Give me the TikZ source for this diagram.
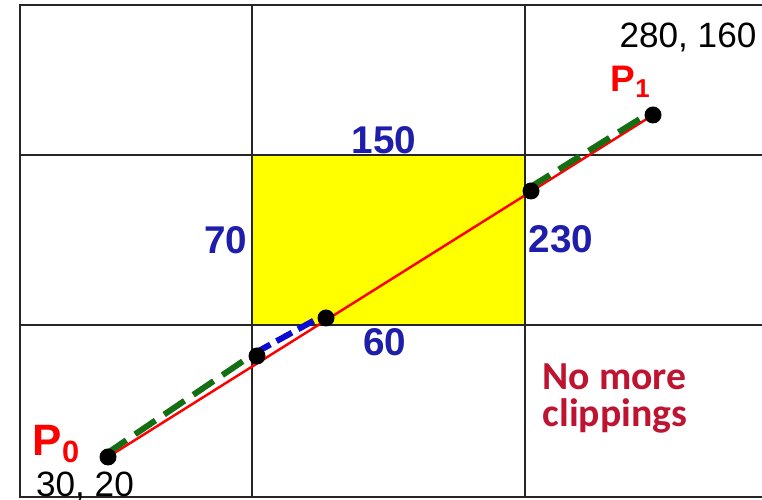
\documentclass[tikz,border=0pt]{standalone}
\usepackage{fontspec}
\setmainfont{Liberation Sans}
\newfontfamily\notefont{Carlito}
\usetikzlibrary{backgrounds}
\definecolor{numblue}{RGB}{30,30,170}
\definecolor{noteRed}{RGB}{190,20,50}
\definecolor{segGreen}{RGB}{20,110,20}
\definecolor{segBlue}{RGB}{10,10,210}
\definecolor{winYellow}{RGB}{255,255,0}

\begin{document}
\begin{tikzpicture}[
  gridln/.style={draw=black!85, line width=0.7pt},
  dot/.style={circle, fill=black, minimum size=0.17cm, inner sep=0pt},
  num/.style={text=numblue, font=\fontsize{11}{13}\selectfont\bfseries, inner sep=1pt},
  xylab/.style={font=\fontsize{10}{12}\selectfont, inner sep=1pt},
  plab/.style={text=red, inner sep=1pt},
  seg/.style={line width=1.7pt, dash pattern=on 7pt off 3pt,
              transform canvas={shift={(-0.02,0.03)}}},
]
  \useasboundingbox (0,0) rectangle (7.62,5);
  \clip (0,0) rectangle (7.62,5);

  \node[dot] (p0) at (1.08,0.43) {};
  \node[dot] (ia) at (2.57,1.44) {};
  \node[dot] (ib) at (3.26,1.82) {};
  \node[dot] (ic) at (5.31,3.09) {};
  \node[dot] (p1) at (6.53,3.85) {};

  \node[plab, font=\fontsize{12.5}{14}\selectfont\bfseries] (lp0) at (0.57,0.56) {P\textsubscript{0}};
  \node[plab, font=\fontsize{10.5}{12}\selectfont\bfseries] (lp1) at (6.31,4.18) {P\textsubscript{1}};
  \node[xylab] (xy1) at (6.88,4.63) {280, 160};
  \node[xylab, anchor=base] (xy0) at (0.85,0.03) {30, 20};

  \node[num] (top) at (3.84,3.60) {150};
  \node[num] (left) at (2.26,2.60) {70};
  \node[num] (right) at (5.61,2.61) {230};
  \node[num] (bot) at (3.85,1.58) {60};

  \node[anchor=north west, align=left, inner sep=0pt, text=noteRed,
        font=\notefont\bfseries\fontsize{11.3}{10.4}\selectfont] (note) at (5.42,1.37)
        {No more\\clippings};

  \begin{pgfonlayer}{background}
    \fill[winYellow] (2.52,1.75) rectangle (5.25,3.45);
    \draw[gridln] (0.20,0.03) rectangle (7.80,4.95);
    \draw[gridln] (0.20,1.75) -- (7.80,1.75) (0.20,3.45) -- (7.80,3.45);
    \draw[gridln] (2.52,0.03) -- (2.52,4.95) (5.25,0.03) -- (5.25,4.95);

    \draw[red, line width=0.7pt] (p0.center) -- (p1.center);
    \draw[seg, segGreen] (p0.center) -- (ia.center);
    \draw[seg, segBlue, dash pattern=on 5pt off 2pt] (ia.center) -- (ib.center);
    \draw[seg, segGreen] (ic.center) -- (p1.center);
  \end{pgfonlayer}
\end{tikzpicture}
\end{document}
